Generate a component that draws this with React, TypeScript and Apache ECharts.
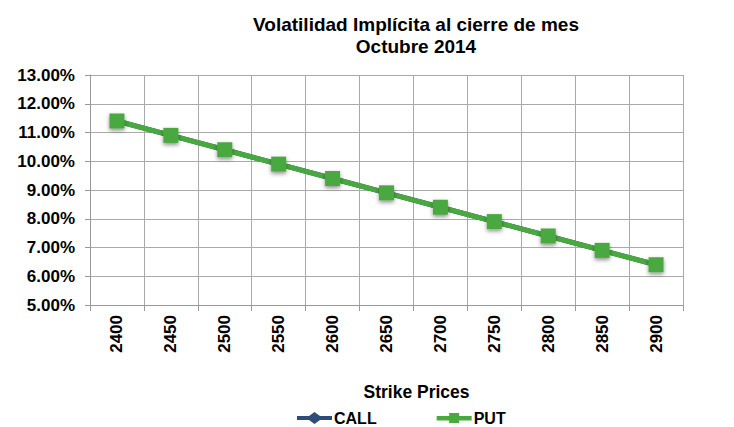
import React, { useEffect, useRef } from "react";
import * as echarts from "echarts";

const strikes = ["2400", "2450", "2500", "2550", "2600", "2650", "2700", "2750", "2800", "2850", "2900"];
const callVol = [11.4, 10.9, 10.4, 9.9, 9.4, 8.9, 8.4, 7.9, 7.4, 6.9, 6.4];
const putVol = [11.4, 10.9, 10.4, 9.9, 9.4, 8.9, 8.4, 7.9, 7.4, 6.9, 6.4];
const titleLines = ["Volatilidad Implícita al cierre de mes", "Octubre 2014"];
const xName = "Strike Prices";

const callIcon = "path://M0,4 L12,4 L17.5,0 L23,4 L35,4 L35,8 L23,8 L17.5,12 L12,8 L0,8 Z";
const putIcon = "path://M0,4 L12.5,4 L12.5,1 L22.5,1 L22.5,4 L35,4 L35,8.5 L22.5,8.5 L22.5,11 L12.5,11 L12.5,8.5 L0,8.5 Z";

export default function App() {
  const ref = useRef<HTMLDivElement>(null);
  useEffect(() => {
    if (!ref.current) return;
    const chart = echarts.init(ref.current, null, { renderer: "svg" });
    const font = "'Liberation Sans', Arial, sans-serif";
    chart.setOption({
      animation: false,
      backgroundColor: "#ffffff",
      textStyle: { fontFamily: font },
      title: {
        text: titleLines.join("\n"),
        left: 411,
        textAlign: "center",
        top: 8,
        textStyle: { fontSize: 19, fontWeight: "bold", color: "#000", lineHeight: 22, fontFamily: font },
      },
      grid: { left: 90, right: 51, top: 75, bottom: 122 },
      legend: {
        left: 292,
        top: 404,
        itemGap: 60,
        itemWidth: 35,
        itemHeight: 12,
        textStyle: { fontSize: 16, lineHeight: 18, fontWeight: "bold", color: "#000", fontFamily: font, padding: [0, 0, 0, -3] },
        data: [
          { name: "CALL", icon: callIcon },
          { name: "PUT", icon: putIcon },
        ],
      },
      xAxis: {
        type: "category",
        data: strikes,
        boundaryGap: true,
        name: xName,
        nameLocation: "middle",
        nameGap: 78,
        nameTextStyle: { fontSize: 17.5, fontWeight: "bold", color: "#000", padding: [0, 0, 0, 60] },
        axisLine: { lineStyle: { color: "#999", width: 1 } },
        axisTick: { show: true, alignWithLabel: false, length: 6, lineStyle: { color: "#999" } },
        splitLine: { show: true, lineStyle: { color: "#aaa", width: 1 } },
        axisLabel: { rotate: 90, fontSize: 17, fontWeight: "bold", color: "#000", margin: 10, interval: 0 },
      },
      yAxis: {
        type: "value",
        min: 5,
        max: 13,
        interval: 1,
        axisLine: { show: true, lineStyle: { color: "#999" } },
        axisTick: { show: true, length: 5, lineStyle: { color: "#999" } },
        splitLine: { show: true, lineStyle: { color: "#aaa", width: 1 } },
        axisLabel: {
          fontSize: 17,
          fontWeight: "bold",
          color: "#000",
          margin: 15,
          formatter: (v: number) => v.toFixed(2) + "%",
        },
      },
      series: [
        {
          name: "CALL",
          type: "line",
          data: callVol,
          symbol: "diamond",
          symbolSize: 10,
          itemStyle: { color: "#2E4B7A" },
          lineStyle: { color: "#2E4B7A", width: 5 },
        },
        {
          name: "PUT",
          type: "line",
          data: putVol,
          symbol: "rect",
          symbolSize: 15,
          itemStyle: { color: "#48A93F", shadowColor: "rgba(0,0,0,0.45)", shadowBlur: 4, shadowOffsetY: 2 },
          lineStyle: { color: "#48A93F", width: 5 },
        },
      ],
    });
    return () => chart.dispose();
  }, []);
  return <div ref={ref} style={{ width: 734, height: 427, position: "absolute", left: 0, top: 0 }} />;
}
